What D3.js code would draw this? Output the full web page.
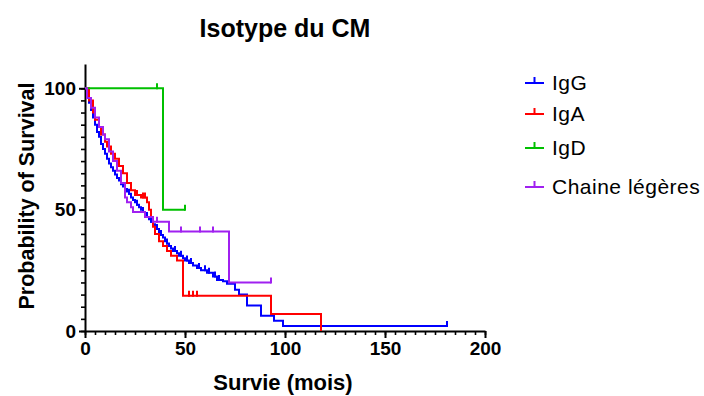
<!DOCTYPE html>
<html>
<head>
<meta charset="utf-8">
<script src="https://cdn.jsdelivr.net/npm/d3@7"></script>
<style>
  html, body { margin: 0; padding: 0; background: #fff; }
  svg { display: block; font-family: "Liberation Sans", Arial, Helvetica, sans-serif; }
</style>
</head>
<body>
<svg id="chart" width="704" height="396"></svg>
<script>
// Kaplan-Meier survival by isotype: event times (months) and survival (%) after each step
const igG_time = [0, 1, 2, 3, 4, 5, 6, 7, 8, 9, 10, 11, 12, 13, 14, 15, 16, 17, 18, 19, 20, 21, 22, 23, 24, 25, 26, 27, 28, 29, 30, 31, 32, 33, 34, 35, 36, 37, 38, 39, 40, 41, 42, 43, 44, 46, 47, 49, 50, 52, 54, 56, 58, 61, 64, 66, 69, 71, 75, 77, 81, 88, 94.5, 99];
const igG_surv = [100, 97, 94, 91, 88, 85, 82, 80, 77, 75, 73, 71, 69, 67.5, 66, 64.5, 63, 62, 60.5, 59.5, 58.5, 57.5, 56.5, 55, 54, 53, 52, 51, 50, 49, 48, 47, 46, 45, 44, 43, 42, 40.5, 39.5, 38.5, 37, 36, 35, 34, 33, 32, 31, 30, 29, 28, 27, 26, 25, 24, 22.5, 21, 20.5, 19.5, 17, 15, 10.5, 6.3, 4.2, 2.1];
const igG_end = 181;
const igG_censor = [22, 26, 29, 31, 33, 36, 38, 41, 45, 48, 51, 53, 57, 60, 62, 65, 67, 181];

const igA_time = [0, 2, 4, 5, 7, 8, 10, 11, 13, 15, 17, 19, 21, 23, 25, 28, 31, 32, 33, 34, 35, 37, 39, 41, 43, 46, 49, 93, 118];
const igA_surv = [100, 95, 90, 87, 84, 81, 78, 76, 73, 71, 68, 65, 61, 58, 56, 55, 53, 50, 47, 43, 40, 37, 35, 33, 31, 29, 14.5, 7, 0];
const igA_end = 118;
const igA_censor = [26, 29, 30, 52, 54, 56];

const igD_time = [0, 39];
const igD_surv = [100, 50];
const igD_end = 50;
const igD_censor = [36, 50];

const cl_time = [0, 1, 3, 5, 7, 9, 10, 12, 14, 16, 18, 20, 21, 23, 24, 30, 34, 42, 72];
const cl_surv = [100, 96, 92, 88, 84, 81, 79, 74, 70, 66, 61, 55, 53, 51, 49, 47, 45, 41, 20];
const cl_end = 93;
const cl_censor = [36, 48, 57.5, 64, 93];

const seriesNames = ["IgG", "IgA", "IgD", "Chaine légères"];
const seriesColors = ["#0000ff", "#ff0000", "#00c000", "#a020f0"];

const xTicks = [0, 50, 100, 150, 200];
const yTicks = [0, 50, 100];

const titleText = "Isotype du CM";
const xTitle = "Survie (mois)";
const yTitle = "Probability of Survival";

// ---- layout ----
const svg = d3.select("#chart");
const x = d3.scaleLinear().domain([0, 200]).range([85, 485]);
const y = d3.scaleLinear().domain([0, 110]).range([331, 64]);

const series = [
  { time: igG_time, surv: igG_surv, end: igG_end, censor: igG_censor },
  { time: igA_time, surv: igA_surv, end: igA_end, censor: igA_censor },
  { time: igD_time, surv: igD_surv, end: igD_end, censor: igD_censor },
  { time: cl_time, surv: cl_surv, end: cl_end, censor: cl_censor }
].map((s, i) => ({ ...s, name: seriesNames[i], color: seriesColors[i] }));

// survival value of a step function at time t
function survAt(s, t) {
  let v = s.surv[0];
  for (let i = 0; i < s.time.length; i++) if (s.time[i] <= t) v = s.surv[i];
  return v;
}

// ---- axes ----
const axisG = svg.append("g");

const yMinor = axisG.append("g").attr("transform", `translate(${x(0)},0)`)
  .call(d3.axisLeft(y).tickValues(d3.range(0, 101, 5)).tickSize(4).tickSizeOuter(0).tickFormat(""));
yMinor.select(".domain").attr("stroke-width", 2);
yMinor.selectAll(".tick line").attr("stroke-width", 1.6);

const yMajor = axisG.append("g").attr("transform", `translate(${x(0)},0)`)
  .call(d3.axisLeft(y).tickValues(yTicks).tickSize(6).tickSizeOuter(0).tickPadding(3));
yMajor.select(".domain").remove();
yMajor.selectAll(".tick line").attr("stroke-width", 2);
yMajor.selectAll(".tick text").attr("font-size", 19).attr("font-weight", "bold").attr("fill", "#000");

const xMinor = axisG.append("g").attr("transform", `translate(0,${y(0)})`)
  .call(d3.axisBottom(x).tickValues(d3.range(0, 201, 5)).tickSize(4).tickSizeOuter(0).tickFormat(""));
xMinor.select(".domain").attr("stroke-width", 2);
xMinor.selectAll(".tick line").attr("stroke-width", 1.6);

const xMajor = axisG.append("g").attr("transform", `translate(0,${y(0)})`)
  .call(d3.axisBottom(x).tickValues(xTicks).tickSize(7).tickSizeOuter(0).tickPadding(4));
xMajor.select(".domain").remove();
xMajor.selectAll(".tick line").attr("stroke-width", 2);
xMajor.selectAll(".tick text").attr("font-size", 19).attr("font-weight", "bold").attr("fill", "#000");

// ---- survival curves ----
const line = d3.line().x(d => x(d[0])).y(d => y(d[1])).curve(d3.curveStepAfter);
const curves = svg.append("g");
series.forEach(s => {
  const pts = s.time.map((t, i) => [t, s.surv[i]]);
  if (s.end > s.time[s.time.length - 1]) pts.push([s.end, s.surv[s.surv.length - 1]]);
  const g = curves.append("g");
  g.append("path").attr("d", line(pts)).attr("fill", "none")
    .attr("stroke", s.color).attr("stroke-width", 2).attr("stroke-linejoin", "miter");
  g.selectAll("line.censor").data(s.censor).join("line").attr("class", "censor")
    .attr("x1", d => x(d)).attr("x2", d => x(d))
    .attr("y1", d => y(survAt(s, d)) + 1).attr("y2", d => y(survAt(s, d)) - 5)
    .attr("stroke", s.color).attr("stroke-width", 2);
});

// ---- titles ----
svg.append("text").attr("x", 285).attr("y", 37).attr("text-anchor", "middle")
  .attr("font-size", 25).attr("font-weight", "bold").text(titleText);
svg.append("text").attr("x", 283).attr("y", 390).attr("text-anchor", "middle")
  .attr("font-size", 22).attr("font-weight", "bold").text(xTitle);
svg.append("text").attr("transform", "translate(34,196) rotate(-90)").attr("text-anchor", "middle")
  .attr("font-size", 21.5).attr("font-weight", "bold").text(yTitle);

// ---- legend ----
const legendY = [83, 114, 148, 187];
const legend = svg.append("g");
series.forEach((s, i) => {
  const g = legend.append("g").attr("transform", `translate(525,${legendY[i]})`);
  g.append("line").attr("x1", 0).attr("x2", 19).attr("y1", 0).attr("y2", 0)
    .attr("stroke", s.color).attr("stroke-width", 2);
  g.append("line").attr("x1", 9.5).attr("x2", 9.5).attr("y1", 0).attr("y2", -6)
    .attr("stroke", s.color).attr("stroke-width", 2);
  g.append("text").attr("x", 27).attr("y", 7).attr("font-size", 21)
    .attr("letter-spacing", 0.5).attr("fill", "#000").text(s.name);
});
</script>
</body>
</html>
